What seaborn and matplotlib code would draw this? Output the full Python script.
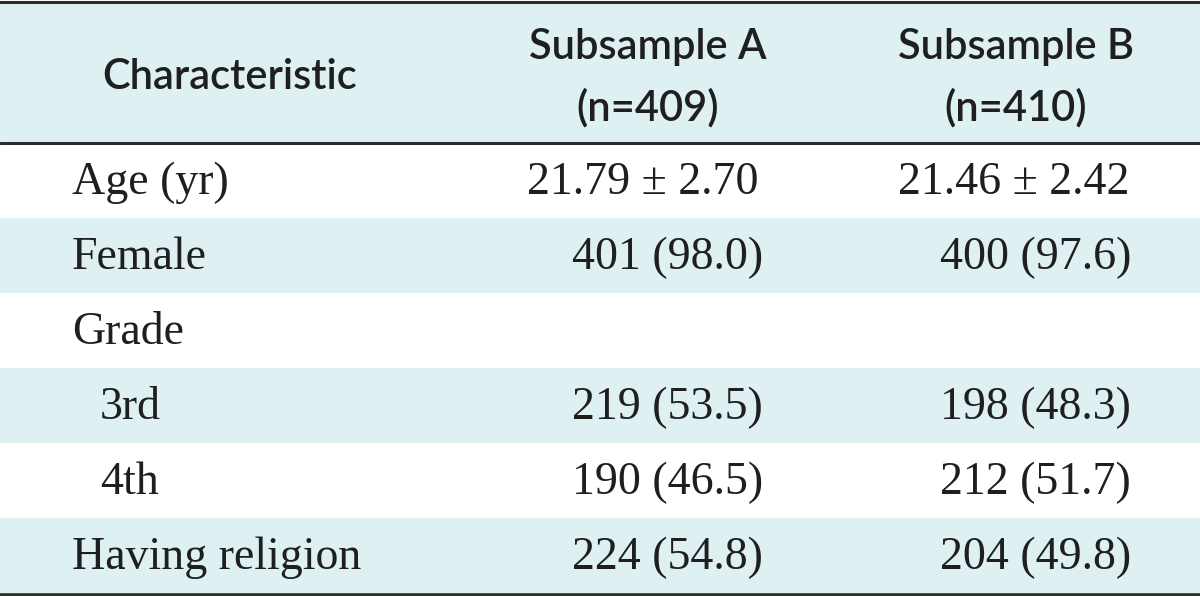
import matplotlib
matplotlib.use("Agg")
import matplotlib.pyplot as plt
import seaborn as sns

# ---- data ----
header_char = "Characteristic"
header_a = ["Subsample A", "(n=409)"]
header_b = ["Subsample B", "(n=410)"]
characteristics = ["Age (yr)", "Female", "Grade", "3rd", "4th", "Having religion"]
indent = [False, False, False, True, True, False]
subsample_a = ["21.79 ± 2.70", "401 (98.0)", "", "219 (53.5)", "190 (46.5)", "224 (54.8)"]
subsample_b = ["21.46 ± 2.42", "400 (97.6)", "", "198 (48.3)", "212 (51.7)", "204 (49.8)"]
shaded = [False, True, False, True, False, True]

sns.set_theme(style="white")
plt.rcParams["font.family"] = ["Liberation Serif", "DejaVu Serif"]

W, H = 1200, 596
fig = plt.figure(figsize=(W / 100, H / 100), dpi=100)
ax = fig.add_axes([0, 0, 1, 1])
ax.set_xlim(0, W)
ax.set_ylim(H, 0)
ax.axis("off")

shade = "#dff0f3"
line_c = "#2b2b2b"
txt_c = "#1f1f1f"

header_top, header_bot = 2, 143
row_h = 75

# header background
ax.axhspan(header_top, header_bot, color=shade, lw=0, zorder=0)
hfont = dict(family=["Lato", "DejaVu Sans"], fontsize=30, color=txt_c, weight="semibold")
ax.text(230, 77, header_char, ha="center", va="center", **hfont)
ax.text(648, 47, header_a[0], ha="center", va="center", **hfont)
ax.text(648, 108, header_a[1], ha="center", va="center", **hfont)
ax.text(1016, 47, header_b[0], ha="center", va="center", **hfont)
ax.text(1016, 108, header_b[1], ha="center", va="center", **hfont)

bfont = dict(fontsize=33, color=txt_c)
for i, (lab, a, b) in enumerate(zip(characteristics, subsample_a, subsample_b)):
    y0 = header_bot + i * row_h
    if shaded[i]:
        ax.axhspan(y0, y0 + row_h, color=shade, lw=0, zorder=0)
    yc = y0 + row_h / 2 + 2
    ax.text(100 if indent[i] else 72, yc, lab, ha="left", va="center", **bfont)
    if i == 0:
        ax.text(643, yc, a, ha="center", va="center", **bfont)
        ax.text(1014, yc, b, ha="center", va="center", **bfont)
    else:
        ax.text(763, yc, a, ha="right", va="center", **bfont)
        ax.text(1131, yc, b, ha="right", va="center", **bfont)

ax.axhline(1.5, color=line_c, lw=2.2)
ax.axhline(header_bot, color=line_c, lw=2.2)
ax.axhline(594.5, color=line_c, lw=2.6)

fig.savefig("out.png", dpi=100)
